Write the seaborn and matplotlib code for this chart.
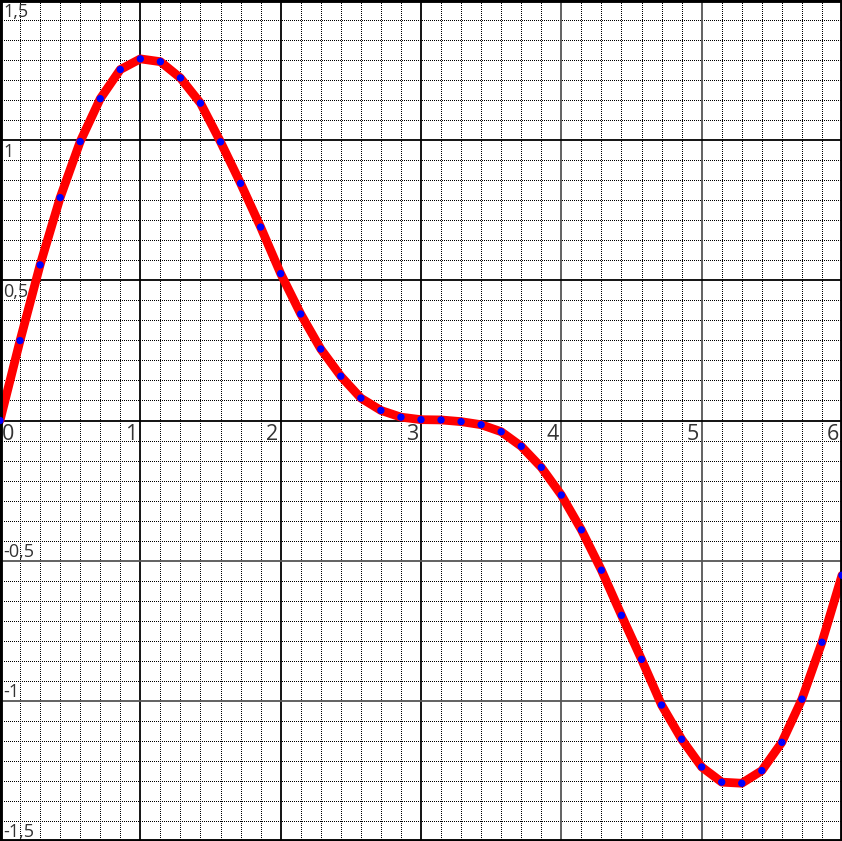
import matplotlib.pyplot as plt
import numpy as np
import pandas as pd
import seaborn as sns
from matplotlib.ticker import MultipleLocator

# sample positions (every 1/7) and values
steps = list(range(43))
y_vals = [
    0.000, 0.285, 0.555, 0.795, 0.995, 1.148, 1.252, 1.290, 1.280, 1.222,
    1.132, 0.994, 0.846, 0.690, 0.524, 0.380, 0.255, 0.158, 0.080, 0.036,
    0.012, 0.003, 0.002, -0.004, -0.015, -0.040, -0.092, -0.167, -0.266, -0.390,
    -0.534, -0.695, -0.852, -1.015, -1.137, -1.236, -1.290, -1.294, -1.249, -1.148,
    -0.994, -0.791, -0.552,
]
x_labels = ["0", "1", "2", "3", "4", "5", "6"]
y_labels = ["1,5", "1", "0,5", "-0,5", "-1", "-1,5"]
y_label_pos = [1.5, 1.0, 0.5, -0.5, -1.0, -1.5]

df = pd.DataFrame({"x": np.array(steps) / 7, "y": y_vals})

sns.set_style("white")
plt.rcParams["font.family"] = ["Open Sans", "DejaVu Sans"]

fig = plt.figure(figsize=(8.42, 8.41), dpi=100)
ax = fig.add_axes([0, 0, 1, 1])
ax.set_xlim(0, 6)
ax.set_ylim(-1.5, 1.5)

# dotted fine grid
ax.xaxis.set_minor_locator(MultipleLocator(1 / 7))
ax.yaxis.set_minor_locator(MultipleLocator(1 / 14))
ax.grid(which="minor", color="black", linewidth=0.72, linestyle=(0, (1, 1.2)),
        antialiased=False, zorder=0)
ax.tick_params(which="both", length=0, labelbottom=False, labelleft=False)

# solid major lines
for xv in [1, 2, 3]:
    ax.axvline(xv, color="black", linewidth=1.3, zorder=1)
for xv in [4, 5]:
    ax.axvline(xv, color="#555555", linewidth=1.3, zorder=1)
for yv in [0, 0.5, 1]:
    ax.axhline(yv, color="black", linewidth=1.3, zorder=1)
for yv in [-0.5, -1]:
    ax.axhline(yv, color="#555555", linewidth=1.3, zorder=1)

sns.lineplot(data=df, x="x", y="y", color="red", linewidth=6.3, ax=ax, zorder=2)
sns.scatterplot(data=df, x="x", y="y", color="blue", s=28, edgecolor="none", ax=ax, zorder=3)
ax.set_xlabel("")
ax.set_ylabel("")

for sp in ax.spines.values():
    sp.set_visible(True)
    sp.set_color("black")
    sp.set_linewidth(3.5)

# x tick labels sit below the axis, left of their line
for i, lab in enumerate(x_labels):
    if i == 0:
        ax.annotate(lab, (0, 0), xytext=(1.0, -14.2), textcoords="offset points",
                    ha="left", va="baseline", fontsize=15.5, color="#333333")
    else:
        ax.annotate(lab, (i, 0), xytext=(-2.0, -14.2), textcoords="offset points",
                    ha="right", va="baseline", fontsize=15.5, color="#333333")

# y tick labels along the left edge
for lab, yv in zip(y_labels, y_label_pos):
    dy = -12.2 if yv > 0 else 2.6
    ax.annotate(lab, (0, yv), xytext=(2.5, dy), textcoords="offset points",
                ha="left", va="baseline", fontsize=13, color="#333333")

plt.savefig("out.png", dpi=100)
